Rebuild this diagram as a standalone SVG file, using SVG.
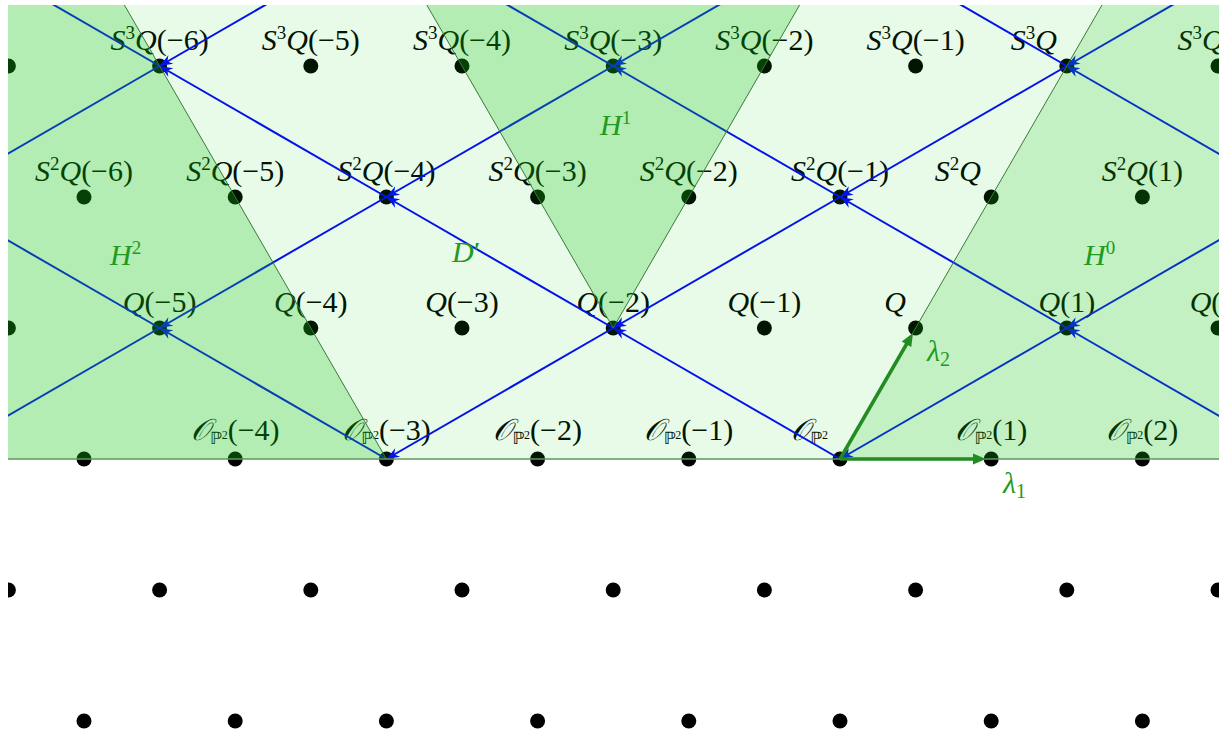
<svg xmlns="http://www.w3.org/2000/svg" width="1222" height="735" viewBox="0 0 1222 735">
<defs>
<style>
.pt{fill:#000}
.lbl{font-family:"Liberation Serif","DejaVu Serif",serif;font-size:30px;fill:#000;text-anchor:middle}
.end{text-anchor:end}
.it{font-style:italic}
.sup{font-size:19px}
.cal{font-family:"DejaVu Serif","DejaVu Sans","Noto Sans",serif;font-style:italic}
.bb{font-family:"DejaVu Sans","Noto Sans",sans-serif;font-size:17px}
.sm{font-size:12px}
.glbl{font-family:"Liberation Serif","DejaVu Serif",serif;font-size:30px;fill:#229922;text-anchor:start}
.sub{font-size:20px}
.blue{stroke:#0000ff;stroke-width:2;fill:none;marker-end:url(#ab)}
.edge{stroke:#3a7a3a;stroke-width:1;fill:none}
.lam{stroke:#228b22;stroke-width:3.5;fill:none;marker-end:url(#ag)}
</style>
<clipPath id="view"><rect x="8" y="5" width="1211" height="730"/></clipPath>
<clipPath id="upper"><rect x="8" y="5" width="1211" height="455"/></clipPath>
<marker id="ab" markerUnits="userSpaceOnUse" orient="auto" overflow="visible" refX="0" refY="0" markerWidth="14" markerHeight="12"><path d="M0,0 L-13,-5 L-9,0 L-13,5 Z" fill="#0000ff"/></marker>
<marker id="ag" markerUnits="userSpaceOnUse" orient="auto" overflow="visible" refX="0" refY="0" markerWidth="14" markerHeight="12"><path d="M-2,-5.5 L11,0 L-2,5.5 Z" fill="#228b22"/></marker>
</defs>
<rect width="1222" height="735" fill="#fff"/>
<g clip-path="url(#view)">
<g id="unlabeled-points">
<circle class="pt" cx="84" cy="459" r="7.5"/>
<circle class="pt" cx="8.4" cy="328" r="7.5"/>
<circle class="pt" cx="8.4" cy="66" r="7.5"/>
<circle class="pt" cx="8.4" cy="590" r="7.5"/><circle class="pt" cx="159.6" cy="590" r="7.5"/><circle class="pt" cx="310.8" cy="590" r="7.5"/><circle class="pt" cx="462" cy="590" r="7.5"/><circle class="pt" cx="613.2" cy="590" r="7.5"/><circle class="pt" cx="764.4" cy="590" r="7.5"/><circle class="pt" cx="915.6" cy="590" r="7.5"/><circle class="pt" cx="1066.8" cy="590" r="7.5"/><circle class="pt" cx="1218" cy="590" r="7.5"/>
<circle class="pt" cx="84" cy="721" r="7.5"/><circle class="pt" cx="235.2" cy="721" r="7.5"/><circle class="pt" cx="386.4" cy="721" r="7.5"/><circle class="pt" cx="537.6" cy="721" r="7.5"/><circle class="pt" cx="688.8" cy="721" r="7.5"/><circle class="pt" cx="840" cy="721" r="7.5"/><circle class="pt" cx="991.2" cy="721" r="7.5"/><circle class="pt" cx="1142.4" cy="721" r="7.5"/>
</g>
<!-- S^3 row -->
<g id="S3Q-m6"><circle class="pt" cx="159.6" cy="66" r="7.5"/><text class="lbl" x="159.6" y="49.5"><tspan class="it">S</tspan><tspan class="sup" dy="-11">3</tspan><tspan class="it" dy="11">Q</tspan>(−6)</text></g>
<g id="S3Q-m5"><circle class="pt" cx="310.8" cy="66" r="7.5"/><text class="lbl" x="310.8" y="49.5"><tspan class="it">S</tspan><tspan class="sup" dy="-11">3</tspan><tspan class="it" dy="11">Q</tspan>(−5)</text></g>
<g id="S3Q-m4"><circle class="pt" cx="462" cy="66" r="7.5"/><text class="lbl" x="462" y="49.5"><tspan class="it">S</tspan><tspan class="sup" dy="-11">3</tspan><tspan class="it" dy="11">Q</tspan>(−4)</text></g>
<g id="S3Q-m3"><circle class="pt" cx="613.2" cy="66" r="7.5"/><text class="lbl" x="613.2" y="49.5"><tspan class="it">S</tspan><tspan class="sup" dy="-11">3</tspan><tspan class="it" dy="11">Q</tspan>(−3)</text></g>
<g id="S3Q-m2"><circle class="pt" cx="764.4" cy="66" r="7.5"/><text class="lbl" x="764.4" y="49.5"><tspan class="it">S</tspan><tspan class="sup" dy="-11">3</tspan><tspan class="it" dy="11">Q</tspan>(−2)</text></g>
<g id="S3Q-m1"><circle class="pt" cx="915.6" cy="66" r="7.5"/><text class="lbl" x="915.6" y="49.5"><tspan class="it">S</tspan><tspan class="sup" dy="-11">3</tspan><tspan class="it" dy="11">Q</tspan>(−1)</text></g>
<g id="S3Q"><circle class="pt" cx="1066.8" cy="66" r="7.5"/><text class="lbl end" x="1057" y="49.5"><tspan class="it">S</tspan><tspan class="sup" dy="-11">3</tspan><tspan class="it" dy="11">Q</tspan></text></g>
<g id="S3Q-1"><circle class="pt" cx="1218" cy="66" r="7.5"/><text class="lbl" x="1218" y="49.5"><tspan class="it">S</tspan><tspan class="sup" dy="-11">3</tspan><tspan class="it" dy="11">Q</tspan>(1)</text></g>
<!-- S^2 row -->
<g id="S2Q-m6"><circle class="pt" cx="84" cy="197" r="7.5"/><text class="lbl" x="84" y="180.5"><tspan class="it">S</tspan><tspan class="sup" dy="-11">2</tspan><tspan class="it" dy="11">Q</tspan>(−6)</text></g>
<g id="S2Q-m5"><circle class="pt" cx="235.2" cy="197" r="7.5"/><text class="lbl" x="235.2" y="180.5"><tspan class="it">S</tspan><tspan class="sup" dy="-11">2</tspan><tspan class="it" dy="11">Q</tspan>(−5)</text></g>
<g id="S2Q-m4"><circle class="pt" cx="386.4" cy="197" r="7.5"/><text class="lbl" x="386.4" y="180.5"><tspan class="it">S</tspan><tspan class="sup" dy="-11">2</tspan><tspan class="it" dy="11">Q</tspan>(−4)</text></g>
<g id="S2Q-m3"><circle class="pt" cx="537.6" cy="197" r="7.5"/><text class="lbl" x="537.6" y="180.5"><tspan class="it">S</tspan><tspan class="sup" dy="-11">2</tspan><tspan class="it" dy="11">Q</tspan>(−3)</text></g>
<g id="S2Q-m2"><circle class="pt" cx="688.8" cy="197" r="7.5"/><text class="lbl" x="688.8" y="180.5"><tspan class="it">S</tspan><tspan class="sup" dy="-11">2</tspan><tspan class="it" dy="11">Q</tspan>(−2)</text></g>
<g id="S2Q-m1"><circle class="pt" cx="840" cy="197" r="7.5"/><text class="lbl" x="840" y="180.5"><tspan class="it">S</tspan><tspan class="sup" dy="-11">2</tspan><tspan class="it" dy="11">Q</tspan>(−1)</text></g>
<g id="S2Q"><circle class="pt" cx="991.2" cy="197" r="7.5"/><text class="lbl end" x="981" y="180.5"><tspan class="it">S</tspan><tspan class="sup" dy="-11">2</tspan><tspan class="it" dy="11">Q</tspan></text></g>
<g id="S2Q-1"><circle class="pt" cx="1142.4" cy="197" r="7.5"/><text class="lbl" x="1142.4" y="180.5"><tspan class="it">S</tspan><tspan class="sup" dy="-11">2</tspan><tspan class="it" dy="11">Q</tspan>(1)</text></g>
<!-- Q row -->
<g id="Q-m5"><circle class="pt" cx="159.6" cy="328" r="7.5"/><text class="lbl" x="159.6" y="311.5"><tspan class="it">Q</tspan>(−5)</text></g>
<g id="Q-m4"><circle class="pt" cx="310.8" cy="328" r="7.5"/><text class="lbl" x="310.8" y="311.5"><tspan class="it">Q</tspan>(−4)</text></g>
<g id="Q-m3"><circle class="pt" cx="462" cy="328" r="7.5"/><text class="lbl" x="462" y="311.5"><tspan class="it">Q</tspan>(−3)</text></g>
<g id="Q-m2"><circle class="pt" cx="613.2" cy="328" r="7.5"/><text class="lbl" x="613.2" y="311.5"><tspan class="it">Q</tspan>(−2)</text></g>
<g id="Q-m1"><circle class="pt" cx="764.4" cy="328" r="7.5"/><text class="lbl" x="764.4" y="311.5"><tspan class="it">Q</tspan>(−1)</text></g>
<g id="Q"><circle class="pt" cx="915.6" cy="328" r="7.5"/><text class="lbl end" x="906" y="311.5"><tspan class="it">Q</tspan></text></g>
<g id="Q-1"><circle class="pt" cx="1066.8" cy="328" r="7.5"/><text class="lbl" x="1066.8" y="311.5"><tspan class="it">Q</tspan>(1)</text></g>
<g id="Q-2"><circle class="pt" cx="1218" cy="328" r="7.5"/><text class="lbl" x="1218" y="311.5"><tspan class="it">Q</tspan>(2)</text></g>
<!-- O row -->
<g id="O-m4"><circle class="pt" cx="235.2" cy="459" r="7.5"/><text class="lbl" x="235.2" y="440"><tspan class="cal">𝒪</tspan><tspan class="bb" dy="4">ℙ</tspan><tspan class="sm" dy="-5">2</tspan><tspan dy="1">(−4)</tspan></text></g>
<g id="O-m3"><circle class="pt" cx="386.4" cy="459" r="7.5"/><text class="lbl" x="386.4" y="440"><tspan class="cal">𝒪</tspan><tspan class="bb" dy="4">ℙ</tspan><tspan class="sm" dy="-5">2</tspan><tspan dy="1">(−3)</tspan></text></g>
<g id="O-m2"><circle class="pt" cx="537.6" cy="459" r="7.5"/><text class="lbl" x="537.6" y="440"><tspan class="cal">𝒪</tspan><tspan class="bb" dy="4">ℙ</tspan><tspan class="sm" dy="-5">2</tspan><tspan dy="1">(−2)</tspan></text></g>
<g id="O-m1"><circle class="pt" cx="688.8" cy="459" r="7.5"/><text class="lbl" x="688.8" y="440"><tspan class="cal">𝒪</tspan><tspan class="bb" dy="4">ℙ</tspan><tspan class="sm" dy="-5">2</tspan><tspan dy="1">(−1)</tspan></text></g>
<g id="O"><circle class="pt" cx="840" cy="459" r="7.5"/><text class="lbl end" x="828" y="440"><tspan class="cal">𝒪</tspan><tspan class="bb" dy="4">ℙ</tspan><tspan class="sm" dy="-5">2</tspan></text></g>
<g id="O-1"><circle class="pt" cx="991.2" cy="459" r="7.5"/><text class="lbl" x="991.2" y="440"><tspan class="cal">𝒪</tspan><tspan class="bb" dy="4">ℙ</tspan><tspan class="sm" dy="-5">2</tspan><tspan dy="1">(1)</tspan></text></g>
<g id="O-2"><circle class="pt" cx="1142.4" cy="459" r="7.5"/><text class="lbl" x="1142.4" y="440"><tspan class="cal">𝒪</tspan><tspan class="bb" dy="4">ℙ</tspan><tspan class="sm" dy="-5">2</tspan><tspan dy="1">(2)</tspan></text></g>
<!-- connectors -->
<g id="connectors" clip-path="url(#upper)">
<line class="blue" x1="159.6" y1="328" x2="-67.2" y2="459"/>
<line class="blue" x1="613.2" y1="328" x2="386.4" y2="459"/>
<line class="blue" x1="1066.8" y1="328" x2="840" y2="459"/>
<line class="blue" x1="386.4" y1="197" x2="159.6" y2="328"/>
<line class="blue" x1="386.4" y1="459" x2="159.6" y2="328"/>
<line class="blue" x1="840" y1="197" x2="613.2" y2="328"/>
<line class="blue" x1="840" y1="459" x2="613.2" y2="328"/>
<line class="blue" x1="1293.6" y1="197" x2="1066.8" y2="328"/>
<line class="blue" x1="1293.6" y1="459" x2="1066.8" y2="328"/>
<line class="blue" x1="159.6" y1="66" x2="-67.2" y2="197"/>
<line class="blue" x1="159.6" y1="328" x2="-67.2" y2="197"/>
<line class="blue" x1="613.2" y1="66" x2="386.4" y2="197"/>
<line class="blue" x1="613.2" y1="328" x2="386.4" y2="197"/>
<line class="blue" x1="1066.8" y1="66" x2="840" y2="197"/>
<line class="blue" x1="1066.8" y1="328" x2="840" y2="197"/>
<line class="blue" x1="386.4" y1="-65" x2="159.6" y2="66"/>
<line class="blue" x1="386.4" y1="197" x2="159.6" y2="66"/>
<line class="blue" x1="840" y1="-65" x2="613.2" y2="66"/>
<line class="blue" x1="840" y1="197" x2="613.2" y2="66"/>
<line class="blue" x1="1293.6" y1="-65" x2="1066.8" y2="66"/>
<line class="blue" x1="1293.6" y1="197" x2="1066.8" y2="66"/>
<line class="blue" x1="159.6" y1="66" x2="-67.2" y2="-65"/>
<line class="blue" x1="613.2" y1="66" x2="386.4" y2="-65"/>
<line class="blue" x1="1066.8" y1="66" x2="840" y2="-65"/>
</g>
<!-- regions -->
<g id="regions">
<rect x="8" y="5" width="1211" height="454" fill="#14c814" fill-opacity="0.098"/>
<polygon points="8,5 124.4,5 386.4,459 8,459" fill="#14c814" fill-opacity="0.25"/>
<polygon points="426.8,5 613.2,328 799.6,5" fill="#14c814" fill-opacity="0.25"/>
<polygon points="840,459 1102,5 1219,5 1219,459" fill="#14c814" fill-opacity="0.175"/>
<line class="edge" x1="386.4" y1="459" x2="124.4" y2="5"/>
<line class="edge" x1="613.2" y1="328" x2="426.8" y2="5"/>
<line class="edge" x1="613.2" y1="328" x2="799.6" y2="5"/>
<line class="edge" x1="840" y1="459" x2="1102" y2="5"/>
<line x1="8" y1="459" x2="1219" y2="459" stroke="#5f965f" stroke-width="1.3"/>
</g>
<g id="region-labels">
<text class="glbl" x="110" y="265"><tspan class="it">H</tspan><tspan class="sup" dy="-11">2</tspan></text>
<text class="glbl" x="600" y="135"><tspan class="it">H</tspan><tspan class="sup" dy="-11">1</tspan></text>
<text class="glbl" x="1084" y="265"><tspan class="it">H</tspan><tspan class="sup" dy="-11">0</tspan></text>
<text class="glbl" x="452" y="262"><tspan class="it">D</tspan>′</text>
</g>
<g id="basis">
<line class="lam" x1="840" y1="459" x2="975" y2="459"/>
<line class="lam" x1="840" y1="459" x2="907.5" y2="342.5"/>
<text class="glbl" x="1003" y="493"><tspan class="it">λ</tspan><tspan class="sub" dy="5">1</tspan></text>
<text class="glbl" x="927" y="361"><tspan class="it">λ</tspan><tspan class="sub" dy="5">2</tspan></text>
</g>
</g>
</svg>
